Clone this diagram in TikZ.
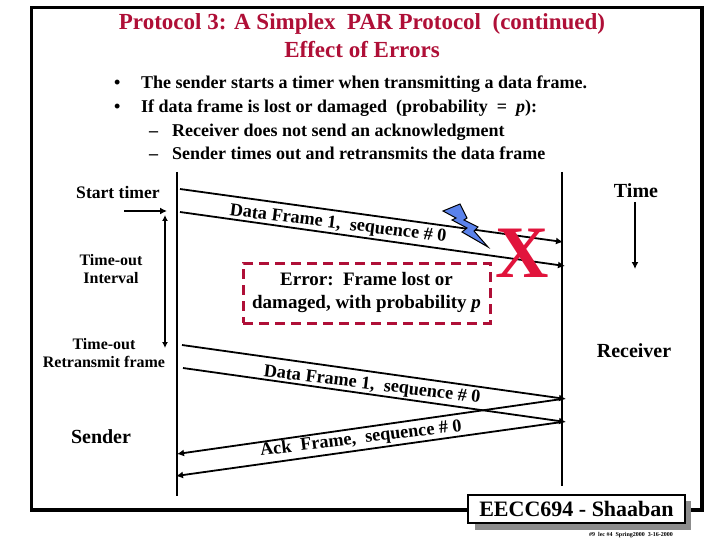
\documentclass[tikz,border=0pt]{standalone}
\usepackage{fontspec}
\setmainfont{Liberation Serif}
\usetikzlibrary{arrows.meta}
\definecolor{titlered}{RGB}{175,15,55}
\definecolor{xred}{RGB}{225,20,60}
\definecolor{boltblue}{RGB}{90,130,235}
\tikzset{
  x=1pt,y=-1pt,
  msg/.style={line width=1.8pt},
  tipped/.style={msg,-{Latex[length=7pt,width=7pt]}},
  lane/.style={line width=2.2pt},
  lbl/.style={font=\bfseries\fontsize{17.6}{20}\selectfont,inner sep=0pt,align=center},
  sm/.style={font=\bfseries\fontsize{16}{18}\selectfont,inner sep=0pt,align=center},
  big/.style={font=\bfseries\fontsize{20}{22}\selectfont,inner sep=0pt,align=center},
  slopelbl/.style={font=\bfseries\fontsize{18.2}{20}\selectfont,inner sep=0pt,align=center},
  body/.style={font=\bfseries\fontsize{18}{20}\selectfont,inner sep=0pt,anchor=base west},
  frameline/.style={line width=3.2pt},
}
\begin{document}
\begin{tikzpicture}
\useasboundingbox (0,0) rectangle (720,540);
\fill[white] (0,0) rectangle (720,540);
\draw[frameline] (31.5,7.5) rectangle (702,510);
% title
\node[inner sep=0pt,align=center,text=titlered,font=\bfseries\fontsize{23}{28}\selectfont] (title) at (362,36) {Protocol 3: A Simplex\ \ PAR Protocol\ \ (continued)\\Effect of Errors};
% bullets
\node[body] (b1) at (114,89) {•};
\node[body] (b2) at (114,113) {•};
\node[body] (t1) at (141,89) {The sender starts a timer when transmitting a data frame.};
\node[body] (t2) at (141,113) {If data frame is lost or damaged\ \ (probability\ \ =\ \ \textit{p}):};
\node[body] (d1) at (149,137) {–};
\node[body] (t3) at (172,137) {Receiver does not send an acknowledgment};
\node[body] (d2) at (149,160) {–};
\node[body] (t4) at (172,160) {Sender times out and retransmits the data frame};
% lanes
\coordinate (st) at (177,172); \coordinate (sb) at (177,496);
\coordinate (rt) at (562,172); \coordinate (rb) at (562,486);
\draw[lane] (st) -- (sb);
\draw[lane] (rt) -- (rb);
% messages
\coordinate (a1) at (180,189); \coordinate (a2) at (563,242);
\coordinate (b1s) at (180,212); \coordinate (b2e) at (565,266);
\coordinate (c1) at (182,345); \coordinate (c2) at (566,399);
\coordinate (e1) at (183,368); \coordinate (e2) at (566,422);
\coordinate (f1) at (562,399); \coordinate (f2) at (177,454);
\coordinate (g1) at (562,422); \coordinate (g2) at (176,476);
\draw[tipped] (a1) -- (a2);
\draw[tipped] (b1s) -- (b2e);
\draw[tipped] (c1) -- (c2);
\draw[tipped] (e1) -- (e2);
\draw[tipped] (f1) -- (f2);
\draw[tipped] (g1) -- (g2);
% timer arrows
\coordinate (s1) at (124,211); \coordinate (s2) at (167,211);
\draw[tipped] (s1) -- (s2);
\coordinate (i1) at (165,215); \coordinate (i2) at (165,348);
\draw[line width=1.4pt,{Latex[length=6pt,width=6pt]}-{Latex[length=6pt,width=6pt]}] (i1) -- (i2);
\coordinate (tm1) at (635,202); \coordinate (tm2) at (635,269);
\draw[tipped] (tm1) -- (tm2);
% left labels
\node[lbl] (start) at (118,192) {Start timer};
\node[sm] (tout) at (111,269) {Time-out\\Interval};
\node[sm] (rtx) at (104,353) {Time-out\\Retransmit frame};
\node[big] (sender) at (101,437) {Sender};
% right labels
\node[big] (time) at (636,191) {Time};
\node[big] (recv) at (634,351) {Receiver};
% sloped labels
\node[slopelbl,rotate=-7] (m1) at (338,224.5) {Data Frame 1,\ \ sequence \# 0};
\node[slopelbl,rotate=-7] (m2) at (372,385.5) {Data Frame 1,\ \ sequence \# 0};
\node[slopelbl,rotate=7] (m3) at (361,439) {Ack\ \ Frame,\ \ sequence \# 0};
% bolt
\fill[boltblue,draw=black,line width=1pt] (443,211) -- (460,204) -- (467,218) -- (464,220) -- (478,227) -- (474,231) -- (488,247) -- (462,232) -- (467,228) -- (452,220) -- (456,218) -- cycle;
% X
\node[inner sep=0pt,text=xred,font=\bfseries\fontsize{74}{74}\selectfont] (xmark) at (522,253) {X};
% error box
\node[draw=titlered,line width=3pt,dash pattern=on 10pt off 6pt,minimum width=247pt,minimum height=60pt,inner sep=0pt,align=center,font=\bfseries\fontsize{19}{23}\selectfont] (err) at (366.5,293) {Error:\ \ Frame lost or\\damaged, with probability \textit{p}};
% footer
\fill[black!45] (475,501) rectangle (691,530);
\node[draw=black,fill=white,line width=2pt,minimum width=217pt,minimum height=28pt,inner sep=0pt,font=\bfseries\fontsize{22}{24}\selectfont] (foot) at (576.5,509) {EECC694 - Shaaban};
\node[inner sep=0pt,font=\bfseries\fontsize{6}{7}\selectfont] (small) at (631,535) {\#9\ \ lec \#4\ \ Spring2000\ \ 3-16-2000};
\end{tikzpicture}
\end{document}
